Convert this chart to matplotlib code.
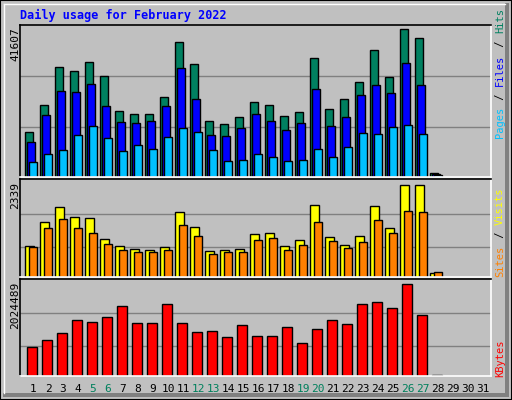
import matplotlib
matplotlib.use("Agg")
import matplotlib.pyplot as plt
from matplotlib.patches import Rectangle
import numpy as np

days = list(range(1, 32))
weekend_days = [5, 6, 12, 13, 19, 20, 26, 27]
hits = [12450,19585,30010,28910,31380,27540,17940,17115,17115,21780,36865,30830,15195,14375,
        16290,20410,19585,16570,17665,32475,18490,21230,25895,34670,27265,40430,37960,1207]
files = [9710,16842,23425,23151,25345,19311,14922,14648,15196,19311,29734,21231,11630,11356,
         13276,17116,15196,13002,14648,23974,13825,16293,22328,25071,22877,31106,25071,740]
pages = [4224,6419,7516,11630,13825,10807,7242,8887,7790,11082,13277,12453,7516,4499,
         4773,6419,5596,4499,4773,7790,5596,8339,12179,11905,13550,14099,11905,549]
visits = [762,1346,1711,1467,1443,932,762,689,665,738,1589,1224,640,665,689,1054,1078,762,
          908,1759,981,786,1005,1735,1200,2246,2246,105]
sites = [738,1200,1419,1200,1078,811,665,616,616,665,1273,1005,567,616,616,908,957,665,
         786,1346,884,713,859,1394,1078,1613,1589,130]
kbytes = [579000,722000,866000,1131000,1091000,1193000,1418000,1070000,1070000,1459000,1070000,
          886000,907000,784000,1029000,804000,804000,988000,661000,947000,1131000,1050000,
          1459000,1500000,1377000,1868000,1234000,27000]
max_hits, max_visits, max_kb = 41607, 2339, 2024489

W, H = 512, 400
fig = plt.figure(figsize=(W/100, H/100), dpi=100, facecolor="#c0c0c0")
MONO = "DejaVu Sans Mono"

def px_axes(x0, y0, x1, y1):
    return fig.add_axes([x0/W, 1-y1/H, (x1-x0)/W, (y1-y0)/H])

fig.patches.append(Rectangle((0, 0), 1, 1, transform=fig.transFigure, fill=False, ec="black", lw=1.5))
fig.patches.append(Rectangle((505/W, 3/H), 4/W, 394/H, transform=fig.transFigure, fc="#808080", ec="none"))
fig.patches.append(Rectangle((3/W, 3/H), 506/W, 4/H, transform=fig.transFigure, fc="#808080", ec="none"))
fig.add_artist(plt.Line2D([4/W, 505/W], [1-4/H, 1-4/H], transform=fig.transFigure, color="white", lw=1))
fig.add_artist(plt.Line2D([4/W, 4/W], [7/H, 1-4/H], transform=fig.transFigure, color="white", lw=1))

# x axis unit = one day slot (15 px); slot of day i starts at pixel 22+15*(i-1)
xl = ((20-22)/15+1, (491-22)/15+1)
d = np.arange(1, len(hits)+1)

def style(ax, top, grids):
    ax.set_facecolor("#c0c0c0")
    ax.set_xlim(*xl)
    ax.set_ylim(0, top)
    ax.set_xticks([]); ax.set_yticks([])
    for g in grids:
        ax.axhline(g, color="#808080", lw=1, zorder=0)
    for s in ("left", "top"):
        ax.spines[s].set_color("black")
    for s in ("right", "bottom"):
        ax.spines[s].set_color("white")
    for s in ax.spines.values():
        s.set_linewidth(1.2)

kw = dict(align="edge", edgecolor="black", linewidth=1)
ax1 = px_axes(20, 25, 491, 177)
style(ax1, max_hits, [13633, 27622])
ax1.bar(d + 3/15, hits, 8/15, color="#008060", **kw)
ax1.bar(d + 5/15, files, 8/15, color="#0000ff", **kw)
ax1.bar(d + 7/15, pages, 8/15, color="#00c0ff", **kw)

ax2 = px_axes(20, 179, 491, 277)
style(ax2, max_visits*98/96.2, [738, 1540])
ax2.bar(d + 3/15, visits, 9/15, color="#ffff00", **kw)
ax2.bar(d + 7/15, sites, 7.5/15, color="#ff8000", **kw)

ax3 = px_axes(20, 279, 491, 376)
style(ax3, 1960000, [600000, 1275000])
ax3.bar(d + 4.5/15, kbytes, 10/15, color="#ff0000", **kw)

for day in days:
    xp = 22 + 15*(day-1) + 11
    fig.text(xp/W, 1-389/H, str(day), ha="center", va="center", family=MONO,
             fontsize=8, color="#00805c" if day in weekend_days else "black")

fig.text(20/W, 1-15/H, "Daily usage for February 2022", family=MONO, fontsize=8.5,
         fontweight="bold", color="#0000ff", va="center", ha="left")
fig.text(15/W, 1-27/H, str(max_hits), rotation=90, family=MONO, fontsize=8, va="top", ha="center")
fig.text(15/W, 1-182/H, str(max_visits), rotation=90, family=MONO, fontsize=8, va="top", ha="center")
fig.text(15/W, 1-282/H, str(max_kb), rotation=90, family=MONO, fontsize=8, va="top", ha="center")

def right_label(parts, ybottom):
    y = ybottom
    for txt, col in parts:
        fig.text(500/W, 1-y/H, txt, rotation=90, family=MONO, fontsize=7.5, color=col,
                 va="bottom", ha="center")
        y -= len(txt)*6.3 + 1
right_label([("Pages", "#00c0ff"), (" / ", "black"), ("Files", "#0000ff"), (" / ", "black"),
             ("Hits", "#008060")], 138)
right_label([("Sites", "#ff8000"), (" / ", "black"), ("Visits", "#ffff00")], 277)
right_label([("KBytes", "#ff0000")], 377)

fig.savefig("out.png", dpi=100, facecolor=fig.get_facecolor())
